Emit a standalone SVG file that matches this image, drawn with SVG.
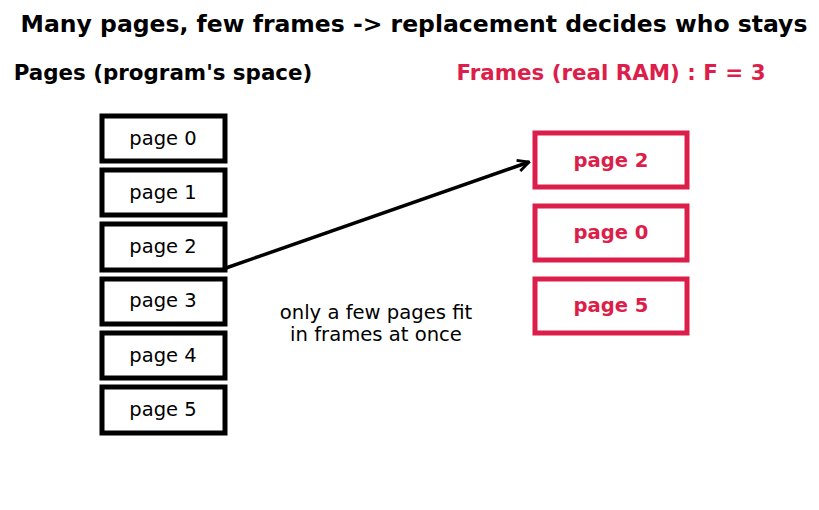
<svg xmlns="http://www.w3.org/2000/svg" width="819" height="510" viewBox="0 0 819 510">
<style>
text{font-family:"DejaVu Sans",sans-serif;}
.t{font-size:23.5px;font-weight:bold;fill:#000;}
.h{font-size:21.4px;font-weight:bold;}
.p rect{fill:#fff;stroke:#000;stroke-width:5;}
.p text{font-size:19.5px;fill:#000;text-anchor:middle;}
.f rect{fill:#fff;stroke:#DC1E4A;stroke-width:5;}
.f text{font-size:19.6px;font-weight:bold;fill:#DC1E4A;text-anchor:middle;}
.note{font-size:19.6px;fill:#000;text-anchor:middle;}
</style>
<defs>
<marker id="ah" viewBox="0 0 10 10" refX="9" refY="5" markerWidth="4" markerHeight="4" orient="auto" markerUnits="strokeWidth">
<path d="M1,1 L9,5 L1,9" fill="none" stroke="#000" stroke-width="2"/>
</marker>
</defs>
<rect width="819" height="510" fill="#fff"/>
<text class="t" x="414" y="32" text-anchor="middle">Many pages, few frames -&gt; replacement decides who stays</text>
<text class="h" x="163" y="80" text-anchor="middle" fill="#000">Pages (program's space)</text>
<text class="h" x="611" y="80" text-anchor="middle" fill="#DC1E4A">Frames (real RAM) : F = 3</text>
<g id="page0" class="p"><rect x="102" y="116" width="123" height="45"/><text x="163" y="145">page 0</text></g>
<g id="page1" class="p"><rect x="102" y="170" width="123" height="45"/><text x="163" y="199">page 1</text></g>
<g id="page2" class="p"><rect x="102" y="224" width="123" height="46"/><text x="163" y="253">page 2</text></g>
<g id="page3" class="p"><rect x="102" y="279" width="123" height="45"/><text x="163" y="307">page 3</text></g>
<g id="page4" class="p"><rect x="102" y="333" width="123" height="45"/><text x="163" y="362">page 4</text></g>
<g id="page5" class="p"><rect x="102" y="387" width="123" height="46"/><text x="163" y="416">page 5</text></g>
<g id="frame0" class="f"><rect x="535" y="133" width="152" height="54"/><text x="611" y="167">page 2</text></g>
<g id="frame1" class="f"><rect x="535" y="206" width="152" height="54"/><text x="611" y="239">page 0</text></g>
<g id="frame2" class="f"><rect x="535" y="279" width="152" height="54"/><text x="611" y="312">page 5</text></g>
<g id="connectors">
<line x1="226" y1="268" x2="529" y2="162" stroke="#000" stroke-width="3.5" marker-end="url(#ah)"/>
</g>
<text class="note" x="376" y="319">only a few pages fit</text>
<text class="note" x="376" y="341">in frames at once</text>
</svg>
